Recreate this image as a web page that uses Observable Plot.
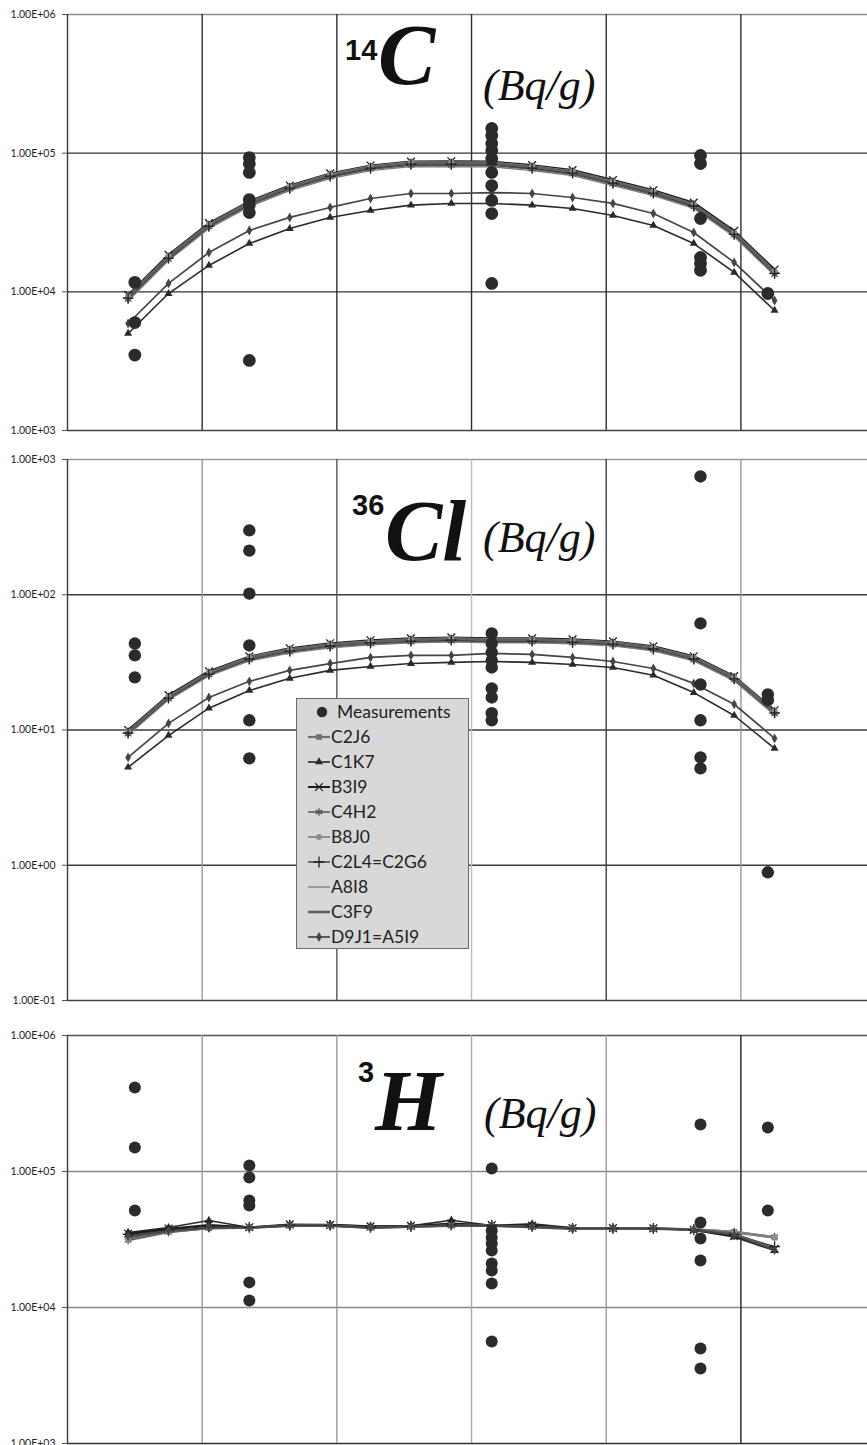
<!DOCTYPE html>
<html><head><meta charset="utf-8">
<script src="https://cdn.jsdelivr.net/npm/d3@7"></script>
<script src="https://cdn.jsdelivr.net/npm/@observablehq/plot@0.6"></script>
<style>
html,body{margin:0;padding:0;background:#fff;width:867px;height:1445px;overflow:hidden}
#root{position:relative;width:867px;height:1445px}
.panel{position:absolute;left:0}
#legend{position:absolute;left:296px;top:698px}
#titles{position:absolute;left:0;top:0;pointer-events:none}
</style></head><body><div id="root"></div>
<script>
// ---------- shared x positions of the model curves ----------
const positions = [0.45, 0.75, 1.05, 1.35, 1.65, 1.95, 2.25, 2.55, 2.85, 3.15, 3.45, 3.75, 4.05, 4.35, 4.65, 4.95, 5.25];
const gridXs = [1, 2, 3, 4, 5];
const seriesNames = ["C2J6", "C1K7", "B3I9", "C4H2", "B8J0", "C2L4=C2G6", "A8I8", "C3F9", "D9J1=A5I9"];

// ---------- 14C (Bq/g) ----------
const c14Ticks = [1e3, 1e4, 1e5, 1e6];
const c14_C2J6 = [9100, 17700, 30100, 43400, 56500, 69000, 78800, 84200, 84000, 84000, 78800, 72600, 61500, 52000, 42000, 26300, 13800];
const c14_C1K7 = [5010, 9720, 15500, 22300, 28600, 34400, 38600, 42200, 43400, 43400, 42200, 39900, 35500, 30100, 22300, 13800, 7330];
const c14_B3I9 = [9500, 18500, 31300, 45000, 58500, 71500, 81500, 87000, 87500, 87000, 82000, 75500, 64000, 54000, 44000, 27500, 14500];
const c14_C4H2 = [8800, 17100, 29200, 42000, 54800, 67000, 76500, 81500, 81500, 81500, 76500, 70500, 59700, 50400, 40700, 25500, 13300];
const c14_B8J0 = [9300, 18100, 30700, 44300, 57600, 70400, 80400, 85900, 85700, 85700, 80400, 74000, 62700, 53000, 42800, 26800, 14100];
const c14_C2L4 = [9000, 17500, 29800, 43000, 55900, 68300, 78000, 83400, 83200, 83200, 78000, 71900, 60900, 51500, 41600, 26000, 13600];
const c14_A8I8 = [8600, 16800, 28600, 41200, 53700, 65500, 74900, 80000, 79800, 79800, 74900, 69000, 58400, 49400, 39900, 25000, 13100];
const c14_C3F9 = [9200, 17900, 30400, 43800, 57100, 69700, 79600, 85000, 84800, 84800, 79600, 73300, 62100, 52500, 42400, 26600, 13900];
const c14_D9J1 = [5910, 11500, 19200, 27700, 34400, 40600, 47100, 51200, 51200, 52000, 51200, 47900, 43400, 36700, 26800, 16300, 8660];
const c14MeasX = [0.5, 0.5, 0.5, 1.35, 1.35, 1.35, 1.35, 1.35, 1.35, 1.35, 3.15, 3.15, 3.15, 3.15, 3.15, 3.15, 3.15, 3.15, 3.15, 3.15, 4.7, 4.7, 4.7, 4.7, 4.7, 4.7, 5.2];
const c14MeasV = [11700, 6000, 3500, 93000, 84000, 72600, 46300, 42200, 37300, 3200, 150600, 134100, 117400, 104500, 91500, 72600, 58400, 45600, 36700, 11500, 96200, 84200, 33800, 17700, 16000, 14300, 9730];

// ---------- 36Cl (Bq/g) ----------
const cl36Ticks = [0.1, 1, 10, 100, 1000];
const cl36_C2J6 = [9.6, 17.4, 26.2, 33.8, 38.7, 42.2, 44.4, 45.9, 46.7, 45.9, 45.9, 45.1, 43.6, 40.1, 33.8, 24.1, 13.5];
const cl36_C1K7 = [5.3, 9.1, 14.5, 19.6, 24.1, 27.6, 29.5, 31.0, 31.6, 32.1, 31.6, 30.5, 29.0, 25.4, 18.9, 12.8, 7.31];
const cl36_B3I9 = [10.0, 18.1, 27.2, 35.0, 40.2, 43.8, 46.1, 47.6, 48.4, 47.6, 47.6, 46.8, 45.2, 41.6, 35.1, 25.0, 14.0];
const cl36_C4H2 = [9.3, 16.9, 25.4, 32.8, 37.5, 40.9, 43.1, 44.5, 45.3, 44.5, 44.5, 43.7, 42.3, 38.9, 32.8, 23.4, 13.1];
const cl36_B8J0 = [9.8, 17.7, 26.7, 34.5, 39.5, 43.0, 45.3, 46.8, 47.6, 46.8, 46.8, 46.0, 44.5, 40.9, 34.5, 24.6, 13.8];
const cl36_C2L4 = [9.5, 17.2, 25.9, 33.5, 38.3, 41.8, 44.0, 45.4, 46.2, 45.4, 45.4, 44.6, 43.2, 39.7, 33.5, 23.9, 13.4];
const cl36_A8I8 = [9.2, 16.7, 25.1, 32.4, 37.1, 40.5, 42.6, 44.1, 44.8, 44.1, 44.1, 43.3, 41.9, 38.5, 32.4, 23.1, 12.9];
const cl36_C3F9 = [9.7, 17.6, 26.5, 34.1, 39.1, 42.6, 44.8, 46.4, 47.2, 46.4, 46.4, 45.6, 44.0, 40.5, 34.1, 24.3, 13.6];
const cl36_D9J1 = [6.27, 11.2, 17.4, 22.9, 27.6, 31.0, 34.4, 35.6, 35.6, 36.8, 36.2, 34.4, 32.1, 28.5, 22.1, 15.5, 8.67];
const cl36MeasX = [0.5, 0.5, 0.5, 1.35, 1.35, 1.35, 1.35, 1.35, 1.35, 3.15, 3.15, 3.15, 3.15, 3.15, 3.15, 3.15, 3.15, 3.15, 4.7, 4.7, 4.7, 4.7, 4.7, 4.7, 5.2, 5.2, 5.2];
const cl36MeasV = [43.6, 35.6, 24.5, 299, 212, 102, 42.2, 11.8, 6.17, 51.8, 43.6, 37.5, 32.7, 29.0, 20.3, 17.4, 13.3, 11.8, 749, 61.4, 21.7, 11.8, 6.27, 5.2, 18.3, 16.6, 0.887];

// ---------- 3H (Bq/g) ----------
const h3Ticks = [1e3, 1e4, 1e5, 1e6];
const h3_C2J6 = [33800, 36800, 38700, 38700, 40100, 40100, 38700, 39500, 40100, 40100, 39200, 38100, 38100, 38100, 37500, 35600, 32700];
const h3_C1K7 = [35600, 38700, 43600, 38700, 40500, 40800, 39500, 39800, 43800, 40100, 41200, 38500, 38100, 38100, 37000, 33000, 26200];
const h3_B3I9 = [35000, 38000, 40500, 38900, 40800, 40500, 39500, 39800, 41500, 40300, 40000, 38400, 38300, 38200, 37200, 33500, 27000];
const h3_C4H2 = [31100, 35600, 38100, 38500, 39800, 39800, 38500, 39200, 39800, 39800, 39000, 37900, 37900, 37900, 37800, 36200, 33200];
const h3_B8J0 = [32000, 36000, 38300, 38600, 40000, 40000, 38600, 39300, 40000, 40000, 39100, 38000, 38000, 38000, 37700, 36000, 33000];
const h3_C2L4 = [34500, 37200, 39500, 38800, 40300, 40200, 38900, 39600, 40500, 40200, 39500, 38200, 38200, 38100, 37300, 34500, 28000];
const h3_A8I8 = [33000, 36400, 38500, 38600, 40000, 40000, 38700, 39400, 40000, 40000, 39100, 38000, 38000, 38000, 37600, 35800, 32400];
const h3_C3F9 = [32500, 36200, 38400, 38600, 39900, 39900, 38600, 39300, 39900, 39900, 39000, 38000, 38000, 38000, 37400, 34800, 26800];
const h3_D9J1 = [33500, 36600, 38600, 38700, 40000, 40000, 38700, 39400, 40100, 40000, 39200, 38100, 38100, 38000, 37300, 34000, 26500];
const h3MeasX = [0.5, 0.5, 0.5, 1.35, 1.35, 1.35, 1.35, 1.35, 1.35, 3.15, 3.15, 3.15, 3.15, 3.15, 3.15, 3.15, 3.15, 3.15, 4.7, 4.7, 4.7, 4.7, 4.7, 4.7, 5.2, 5.2];
const h3MeasV = [415000, 150000, 51700, 110700, 90400, 61200, 56200, 15300, 11250, 105200, 36800, 32700, 29500, 26200, 21100, 18700, 15000, 5620, 221700, 42200, 32100, 22200, 5000, 3560, 210700, 51700];

// ---------- styles (per series) ----------
const styles = {
  "C2J6":      {color: "#707070", width: 2.2, symbol: "square",   r: 3.2, filled: true},
  "C1K7":      {color: "#2a2a2a", width: 1.6, symbol: "triangle", r: 3.0, filled: true},
  "B3I9":      {color: "#1c1c1c", width: 2.0, symbol: "times",    r: 3.6, filled: false},
  "C4H2":      {color: "#555555", width: 1.5, symbol: "asterisk", r: 3.6, filled: false},
  "B8J0":      {color: "#8e8e8e", width: 2.0, symbol: "circle",   r: 3.0, filled: true},
  "C2L4=C2G6": {color: "#202020", width: 1.2, symbol: "plus",     r: 3.6, filled: false},
  "A8I8":      {color: "#7a7a7a", width: 1.3, symbol: null},
  "C3F9":      {color: "#606060", width: 2.6, symbol: null},
  "D9J1=A5I9": {color: "#454545", width: 1.7, symbol: "diamond",  r: 3.0, filled: true}
};

function sci(d) {
  const e = Math.round(Math.log10(d));
  return "1.00E" + (e < 0 ? "-" : "+") + String(Math.abs(e)).padStart(2, "0");
}

function makePanel(cfg) {
  const rows = [];
  seriesNames.forEach((name, i) => cfg.lines[i].forEach((v, j) => rows.push({series: name, x: positions[j], y: v})));
  const meas = cfg.measX.map((x, i) => ({x, y: cfg.measV[i]}));
  const marks = [
    Plot.ruleY(cfg.ticks, {y: d => d, stroke: (d, i) => cfg.hColors[i], strokeWidth: 1.4}),
    Plot.ruleX(gridXs, {x: d => d, stroke: (d, i) => cfg.vColors[i], strokeWidth: 1.4}),
    Plot.ruleX([0], {stroke: "#3a3a3a", strokeWidth: 1.4}),
    Plot.axisY({ticks: cfg.ticks, tickFormat: sci, label: null, tickSize: 5, tickPadding: 7, fontSize: 10.5, stroke: "#555", fill: "#1e1e1e"})
  ];
  for (const name of seriesNames) {
    const s = styles[name];
    marks.push(Plot.line(rows.filter(r => r.series === name), {x: "x", y: "y", stroke: s.color, strokeWidth: s.width}));
  }
  for (const name of seriesNames) {
    const s = styles[name];
    if (!s.symbol) continue;
    marks.push(Plot.dot(rows.filter(r => r.series === name), {
      x: "x", y: "y", symbol: s.symbol, r: s.r,
      fill: s.filled ? s.color : "none", stroke: s.filled ? "none" : s.color, strokeWidth: 1.3
    }));
  }
  marks.push(Plot.dot(meas, {x: "x", y: "y", r: cfg.dotR, fill: "#2b2b2b"}));
  const svg = Plot.plot({
    width: 867, height: cfg.height,
    marginLeft: 67, marginRight: 0, marginTop: cfg.mt, marginBottom: cfg.mb,
    x: {domain: [0, 5.94], axis: null},
    y: {type: "log", domain: cfg.domain, axis: null},
    style: {fontFamily: "Lato, 'Open Sans', sans-serif", color: "#222", background: "transparent", overflow: "visible"},
    marks
  });
  svg.classList.add("panel");
  svg.style.top = cfg.top + "px";
  return svg;
}

const root = document.getElementById("root");
root.appendChild(makePanel({
  top: 0, height: 440, mt: 14, mb: 10, domain: [1e3, 1e6], ticks: c14Ticks, dotR: 6.4,
  lines: [c14_C2J6, c14_C1K7, c14_B3I9, c14_C4H2, c14_B8J0, c14_C2L4, c14_A8I8, c14_C3F9, c14_D9J1],
  measX: c14MeasX, measV: c14MeasV,
  hColors: ["#444", "#333", "#333", "#8a8a8a"], vColors: ["#2e2e2e", "#2e2e2e", "#2e2e2e", "#2e2e2e", "#2e2e2e"]
}));
root.appendChild(makePanel({
  top: 445, height: 565, mt: 14, mb: 10, domain: [0.1, 1000], ticks: cl36Ticks, dotR: 6.2,
  lines: [cl36_C2J6, cl36_C1K7, cl36_B3I9, cl36_C4H2, cl36_B8J0, cl36_C2L4, cl36_A8I8, cl36_C3F9, cl36_D9J1],
  measX: cl36MeasX, measV: cl36MeasV,
  hColors: ["#444", "#3a3a3a", "#3a3a3a", "#3a3a3a", "#9a9a9a"], vColors: ["#9a9a9a", "#555", "#bdbdbd", "#3c3c3c", "#9a9a9a"]
}));
root.appendChild(makePanel({
  top: 1021, height: 424, mt: 14, mb: 2, domain: [1e3, 1e6], ticks: h3Ticks, dotR: 6.0,
  lines: [h3_C2J6, h3_C1K7, h3_B3I9, h3_C4H2, h3_B8J0, h3_C2L4, h3_A8I8, h3_C3F9, h3_D9J1],
  measX: h3MeasX, measV: h3MeasV,
  hColors: ["#333", "#888", "#888", "#555"], vColors: ["#9a9a9a", "#9a9a9a", "#aaaaaa", "#9a9a9a", "#222"]
}));

// ---------- titles ----------
const titles = [
  {sup: "14", main: "C",  supX: 345, supY: 60,   mainX: 378, mainY: 84,   unitX: 483, unitY: 100},
  {sup: "36", main: "Cl", supX: 352, supY: 515,  mainX: 385, mainY: 560,  unitX: 483, unitY: 552},
  {sup: "3",  main: "H",  supX: 358, supY: 1082, mainX: 375, mainY: 1130, unitX: 484, unitY: 1128}
];
const unitLabel = "(Bq/g)";
const tsvg = d3.select(root).append("svg").attr("id", "titles").attr("width", 867).attr("height", 1445);
for (const t of titles) {
  tsvg.append("text").attr("x", t.supX).attr("y", t.supY).attr("font-family", "'Liberation Sans', Arial, sans-serif")
    .attr("font-weight", "bold").attr("font-size", 29).attr("fill", "#111").text(t.sup);
  tsvg.append("text").attr("x", t.mainX).attr("y", t.mainY).attr("font-family", "'Liberation Serif', 'Times New Roman', serif")
    .attr("font-weight", "bold").attr("font-style", "italic").attr("font-size", 86).attr("fill", "#111").text(t.main);
  tsvg.append("text").attr("x", t.unitX).attr("y", t.unitY).attr("font-family", "'Liberation Serif', 'Times New Roman', serif")
    .attr("font-style", "italic").attr("font-size", 44).attr("fill", "#111").text(unitLabel);
}

// ---------- legend ----------
const legendItems = ["Measurements"].concat(seriesNames);
const lg = d3.select(root).append("svg").attr("id", "legend").attr("width", 174).attr("height", 252);
lg.append("rect").attr("x", 0.5).attr("y", 0.5).attr("width", 172).attr("height", 250)
  .attr("fill", "#d8d8d8").attr("stroke", "#6a6a6a").attr("stroke-width", 1);
const symMap = {square: d3.symbolSquare, triangle: d3.symbolTriangle, times: d3.symbolTimes, asterisk: d3.symbolAsterisk,
  circle: d3.symbolCircle, plus: d3.symbolPlus, diamond: d3.symbolDiamond};
legendItems.forEach((name, i) => {
  const cy = 14 + 25 * i;
  if (i === 0) {
    lg.append("circle").attr("cx", 26).attr("cy", cy).attr("r", 5.2).attr("fill", "#2b2b2b");
    lg.append("text").attr("x", 41).attr("y", cy).attr("dy", "0.36em").attr("font-family", "Lato, sans-serif")
      .attr("font-size", 17.5).attr("fill", "#222").text(name);
    return;
  }
  const s = styles[name];
  lg.append("line").attr("x1", 12).attr("x2", 34).attr("y1", cy).attr("y2", cy)
    .attr("stroke", s.color).attr("stroke-width", s.width);
  if (s.symbol) {
    const area = Math.PI * s.r * s.r;
    lg.append("path").attr("transform", `translate(23,${cy})`).attr("d", d3.symbol(symMap[s.symbol], area)())
      .attr("fill", s.filled ? s.color : "none").attr("stroke", s.filled ? "none" : s.color).attr("stroke-width", 1.3);
  }
  lg.append("text").attr("x", 35).attr("y", cy).attr("dy", "0.36em").attr("font-family", "Lato, sans-serif")
    .attr("font-size", 17.5).attr("fill", "#222").text(name);
});
</script>
</body></html>
